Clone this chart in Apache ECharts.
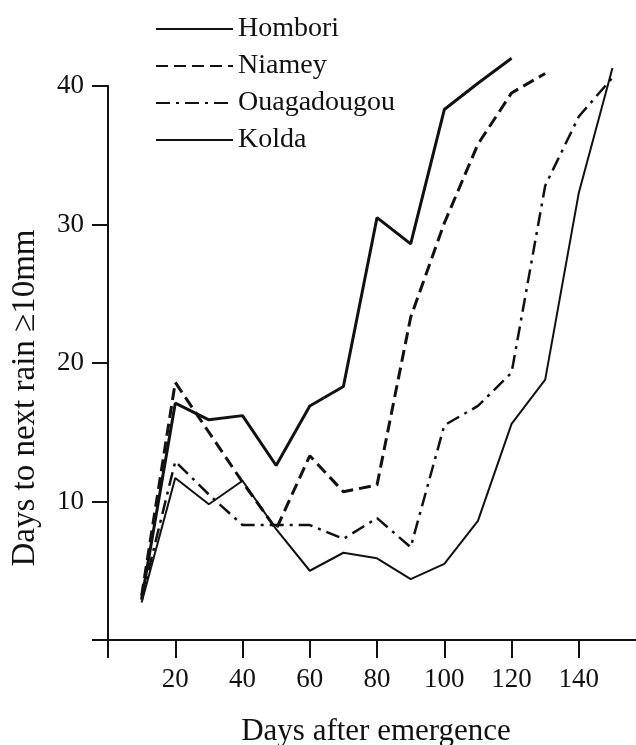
<!DOCTYPE html>
<html>
<head>
<meta charset="utf-8">
<style>
  html, body { margin: 0; padding: 0; background: #fff; }
  #main { width: 636px; height: 745px; }
</style>
<script src="https://cdn.jsdelivr.net/npm/echarts@6/dist/echarts.min.js"></script>
</head>
<body>
<div id="main"></div>
<script>
// days after emergence (one point every 10 days)
var days = [10, 20, 30, 40, 50, 60, 70, 80, 90, 100, 110, 120, 130, 140, 150];

// days to next rain >= 10mm
var hombori = [2.9, 17.1, 15.9, 16.2, 12.6, 16.9, 18.3, 30.5, 28.6, 38.3, 40.2, 42.0];
var niamey = [3.2, 18.6, 15.0, 11.4, 8.0, 13.3, 10.7, 11.2, 23.3, 30.1, 35.8, 39.5, 40.9];
var ouaga = [3.0, 12.9, 10.5, 8.3, 8.3, 8.3, 7.3, 8.8, 6.7, 15.5, 16.9, 19.3, 32.8, 37.8, 40.6];
var kolda = [2.7, 11.7, 9.8, 11.5, 8.0, 5.0, 6.3, 5.9, 4.4, 5.5, 8.6, 15.6, 18.8, 32.3, 41.3];

var xTicks = [0, 20, 40, 60, 80, 100, 120, 140];
var xLabels = [20, 40, 60, 80, 100, 120, 140];

var serif = 'Liberation Serif';

function pairs(vals) {
  var out = [];
  for (var i = 0; i < vals.length; i++) {
    out.push([days[i], vals[i]]);
  }
  return out;
}

function line(name, vals, width, type) {
  return {
    name: name,
    type: 'line',
    data: pairs(vals),
    symbol: 'none',
    clip: false,
    silent: true,
    animation: false,
    lineStyle: { color: '#111', width: width, type: type }
  };
}

var myChart = echarts.init(document.getElementById('main'));
myChart.setOption({
  backgroundColor: '#fff',
  animation: false,
  grid: { left: 108, right: 0, top: 86, bottom: 105 },
  legend: {
    orient: 'vertical',
    left: 150,
    top: 10,
    itemWidth: 77,
    itemHeight: 14,
    itemGap: 9,
    itemStyle: { opacity: 0 },
    textStyle: { fontFamily: serif, fontSize: 28, color: '#111' },
    data: ['Hombori', 'Niamey', 'Ouagadougou', 'Kolda']
  },
  xAxis: {
    type: 'value',
    min: 0,
    max: 157,
    splitLine: { show: false },
    axisLine: { lineStyle: { color: '#111', width: 2 } },
    axisTick: { customValues: xTicks, length: 18, lineStyle: { color: '#111', width: 2 } },
    axisLabel: { customValues: xLabels, margin: 26, fontFamily: serif, fontSize: 27, color: '#111' }
  },
  yAxis: {
    type: 'value',
    min: 0,
    max: 40,
    interval: 10,
    splitLine: { show: false },
    axisLine: { show: true, lineStyle: { color: '#111', width: 2 } },
    axisTick: { length: 16, lineStyle: { color: '#111', width: 2 } },
    axisLabel: { showMinLabel: false, margin: 24, fontFamily: serif, fontSize: 27, color: '#111' }
  },
  graphic: [{
    type: 'text',
    x: 25,
    y: 398,
    rotation: Math.PI / 2,
    style: {
      text: 'Days to next rain ≥10mm',
      font: '33px "Liberation Serif"',
      fill: '#111',
      align: 'center',
      verticalAlign: 'middle'
    }
  }, {
    type: 'text',
    x: 376,
    y: 732,
    style: {
      text: 'Days after emergence',
      font: '31px "Liberation Serif"',
      fill: '#111',
      align: 'center',
      verticalAlign: 'middle'
    }
  }],
  series: [
    line('Hombori', hombori, 3, 'solid'),
    line('Niamey', niamey, 3, [12, 6]),
    line('Ouagadougou', ouaga, 2.5, [14, 6, 3, 6]),
    line('Kolda', kolda, 2, 'solid')
  ]
});

// the x axis line runs on a little to the left of the y axis, like the y ticks
var origin = myChart.convertToPixel({ gridIndex: 0 }, [0, 0]);
myChart.setOption({
  graphic: [{
    id: 'xstub',
    type: 'line',
    shape: { x1: origin[0] - 16, y1: origin[1], x2: origin[0], y2: origin[1] },
    style: { stroke: '#111', lineWidth: 2 }
  }]
});
</script>
</body>
</html>
